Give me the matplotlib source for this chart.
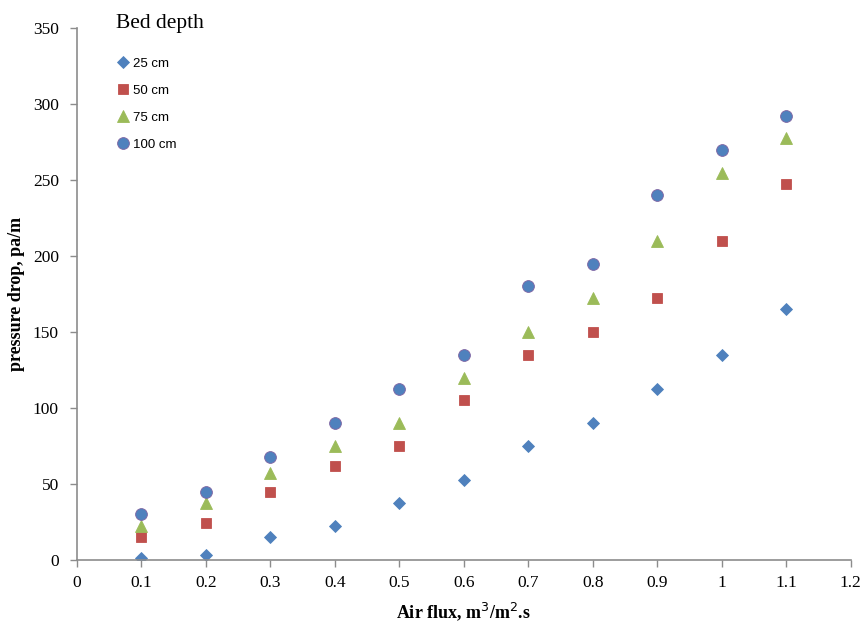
import matplotlib.pyplot as plt

# air flux (m3/m2.s) and pressure drop (pa/m) per bed depth
air_flux = [0.1, 0.2, 0.3, 0.4, 0.5, 0.6, 0.7, 0.8, 0.9, 1.0, 1.1]
depth_25 = [1.5, 3, 15, 22.5, 37.5, 52.5, 75, 90, 112.5, 135, 165]
depth_50 = [15, 24, 45, 62, 75, 105, 135, 150, 172.5, 210, 247.5]
depth_75 = [22.5, 37.5, 57, 75, 90, 120, 150, 172.5, 210, 255, 277.5]
depth_100 = [30, 45, 67.5, 90, 112.5, 135, 180, 195, 240, 270, 292.5]

series = [
    ('25 cm', depth_25, 'D', '#4F81BD', '#4F81BD', 6),
    ('50 cm', depth_50, 's', '#C0504D', '#C0504D', 7.5),
    ('75 cm', depth_75, '^', '#9BBB59', '#9BBB59', 8),
    ('100 cm', depth_100, 'o', '#4F81BD', '#8064A2', 8.5),
]

serif = 'Liberation Serif'

fig = plt.figure(figsize=(8.61, 6.27), dpi=100)
ax = fig.add_axes([0.0894, 0.107, 0.8986, 0.848])

for label, vals, marker, face, edge, size in series:
    ax.plot(air_flux, vals, linestyle='none', marker=marker, markersize=size,
            markerfacecolor=face, markeredgecolor=edge, markeredgewidth=0.6,
            label=label)

ax.set_xlim(0, 1.2)
ax.set_ylim(0, 350)
ax.set_xticks([i / 10 for i in range(13)])
ax.set_xticklabels(['0', '0.1', '0.2', '0.3', '0.4', '0.5', '0.6', '0.7',
                    '0.8', '0.9', '1', '1.1', '1.2'])
ax.set_yticks(range(0, 351, 50))

for side in ['top', 'right']:
    ax.spines[side].set_visible(False)
for side in ['left', 'bottom']:
    ax.spines[side].set_color('#8c8c8c')
    ax.spines[side].set_linewidth(1.2)

ax.tick_params(axis='both', colors='#8c8c8c', length=5, width=1.0,
               labelcolor='black', labelsize=12.5)
ax.tick_params(axis='x', pad=6)
ax.tick_params(axis='y', pad=8)
for t in ax.get_xticklabels() + ax.get_yticklabels():
    t.set_fontfamily(serif)

ax.set_xlabel('Air flux, m$^3$/m$^2$.s', fontfamily=serif, fontweight='bold',
              fontsize=13)
ax.xaxis.set_label_coords(0.5, -0.077)
ax.set_ylabel('pressure drop, pa/m', fontfamily=serif, fontweight='bold',
              fontsize=13, labelpad=6)

leg = ax.legend(loc='upper left', bbox_to_anchor=(0.035, 1.05), frameon=False,
                title='Bed depth', prop={'family': 'Liberation Sans', 'size': 9.5},
                labelspacing=1.12, handletextpad=0.3, handlelength=1.0,
                alignment='left')
leg.get_title().set_fontfamily(serif)
leg.get_title().set_fontsize(15.5)
leg._legend_box.sep = 18

fig.savefig('out.png', dpi=100)
